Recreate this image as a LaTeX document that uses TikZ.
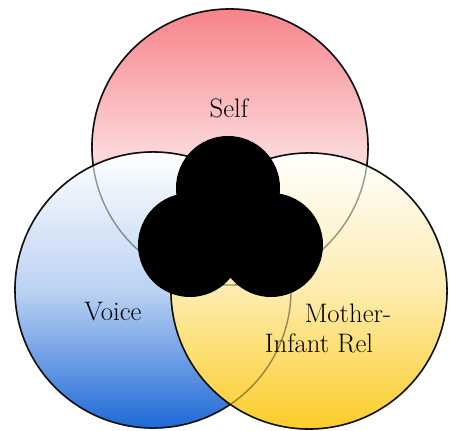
\documentclass[tikz,border=0pt]{standalone}
\usetikzlibrary{positioning}
\definecolor{selfred}{RGB}{245,132,138}
\definecolor{voiceblue}{RGB}{30,105,215}
\definecolor{mothergold}{RGB}{252,205,40}
\tikzset{
  ring/.style={
    circle,
    draw=black!90,
    line width=1.1pt,
    minimum size=6.9cm,
    inner sep=0pt
  },
  faint/.style={
    draw=black,
    draw opacity=0.4,
    line width=1pt
  },
  blob/.style={
    circle,
    fill=black,
    minimum size=2.6cm,
    inner sep=0pt
  },
  lbl/.style={
    font=\fontsize{19}{22}\selectfont,
    text=black,
    inner sep=1pt
  }
}
\begin{document}
\begin{tikzpicture}[x=0.025cm,y=-0.025cm]
  \useasboundingbox (0,0) rectangle (449,431);
  % three overlapping rings
  \node[ring, top color=selfred, bottom color=white, middle color=selfred!35] (self) at (230,147) {};
  \node[ring, top color=white, bottom color=voiceblue, middle color=voiceblue!30] (voice) at (153,290) {};
  \node[ring, top color=white, bottom color=mothergold, middle color=mothergold!38] (mother) at (309,291) {};

  % edges seen through the fills
  \foreach \r in {self,voice,mother}
    \draw[faint] (\r.center) circle[radius=3.45cm];

  % black centre
  \node[blob] (core top) at (228,188) {};
  \node[blob] (core left) at (190,245) {};
  \node[blob] (core right) at (271,245) {};

  \node[lbl] (self label) at (229,108) {Self};
  \node[lbl] (voice label) at (113,312) {Voice};
  \node[lbl] (mother label) at (348,313) {Mother-};
  \node[lbl] (infant label) at (319,343) {Infant Rel};
\end{tikzpicture}
\end{document}
